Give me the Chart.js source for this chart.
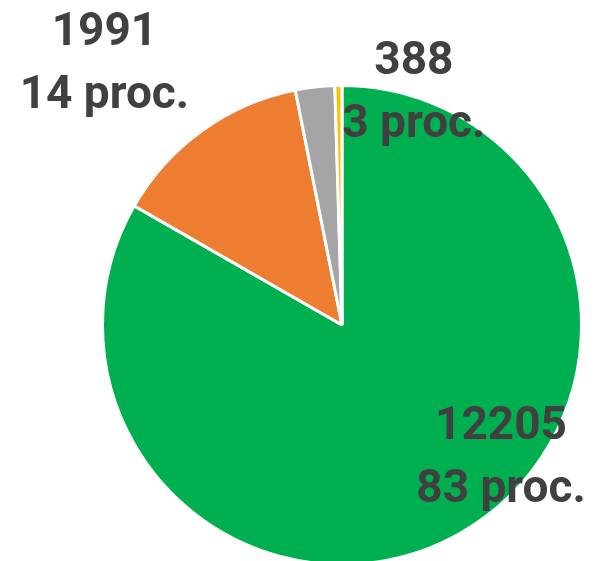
<!DOCTYPE html>
<html>
<head>
<meta charset="utf-8">
<script src="https://cdn.jsdelivr.net/npm/chart.js@4.4.1/dist/chart.umd.min.js"></script>
<style>
  html, body { margin: 0; padding: 0; background: #ffffff; overflow: hidden; }
  #wrap { width: 595px; height: 566px; }
</style>
</head>
<body>
<div id="wrap"><canvas id="chartPie" width="595" height="566"></canvas></div>
<script>
// Data
const categories = ['A', 'B', 'C', 'D'];
const values = [12205, 1991, 388, 70];
const colors = ['#00B050', '#ED7D31', '#A5A5A5', '#FFC000'];
const showLabel = [true, true, true, false];

// label block centres, relative to the pie centre, in units of the radius
const labelOffsets = [[0.664, 0.606], [-0.992, -1.038], [0.30, -0.918], [0, 0]];

const total = values.reduce((a, b) => a + b, 0);

const labelPlugin = {
    id: 'sliceLabels',
    afterDatasetsDraw(chart) {
        const ctx = chart.ctx;
        const arcs = chart.getDatasetMeta(0).data;
        ctx.save();
        ctx.font = 'bold 46px Roboto';
        ctx.fillStyle = '#404040';
        ctx.textAlign = 'center';
        ctx.textBaseline = 'alphabetic';
        arcs.forEach((arc, i) => {
            if (!showLabel[i]) return;
            const r = arc.outerRadius;
            const cx = arc.x + labelOffsets[i][0] * r;
            const cy = arc.y + labelOffsets[i][1] * r;
            const pct = Math.round(values[i] / total * 100);
            ctx.fillText(String(values[i]), cx, cy - 31);
            ctx.fillText(pct + ' proc.', cx, cy + 32);
        });
        ctx.restore();
    }
};

new Chart(document.getElementById('chartPie').getContext('2d'), {
    type: 'pie',
    data: {
        labels: categories,
        datasets: [{
            data: values,
            backgroundColor: colors,
            borderColor: '#ffffff',
            borderWidth: 3
        }]
    },
    options: {
        responsive: false,
        animation: false,
        layout: { padding: { left: 101, right: 12, top: 84, bottom: 0 } },
        plugins: {
            legend: { display: false },
            tooltip: { enabled: false }
        }
    },
    plugins: [labelPlugin]
});
</script>
</body>
</html>
